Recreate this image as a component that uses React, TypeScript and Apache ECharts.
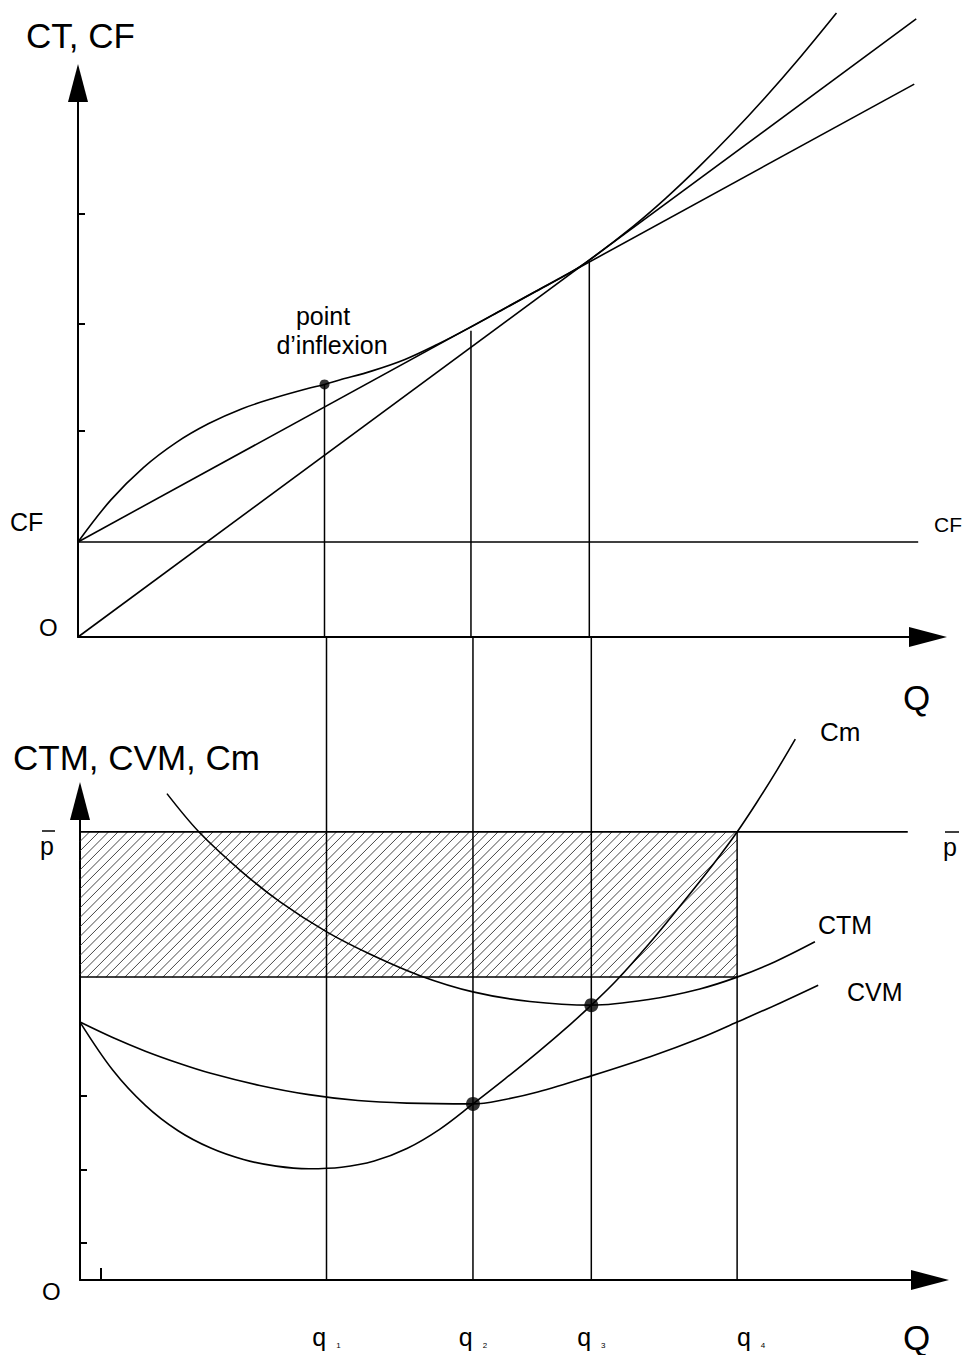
import React, { useEffect, useRef } from 'react';
import * as echarts from 'echarts';

// ---------- shared quantities ----------
const Q_MARKS = [3.77, 6.01, 7.82, 10.05]; // q1..q4
const Q_SUBS = ['1', '2', '3', '4'];

// ---------- top panel (CT, CF) ----------
const CF = 17.5;
const CT_Q = [0, 0.5, 1.0, 1.5, 2.0, 2.5, 3.0, 3.5, 3.77, 4.0, 4.5, 5.0, 5.5, 6.0, 6.5, 7.0, 7.5, 7.8, 8.5, 9.0, 9.5, 10.0, 10.5, 11.0, 11.6];
const CT_V = [17.5, 25.2, 31.2, 35.8, 39.3, 42.0, 44.0, 45.7, 46.5, 47.3, 49.0, 51.1, 53.9, 57.0, 60.3, 63.6, 66.9, 69.2, 75.7, 80.9, 86.6, 92.7, 99.2, 106.1, 114.9];
const RAY_ORIGIN = [[0, 0], [12.82, 113.8]];
const RAY_CF = [[0, CF], [12.79, 101.8]];
const CF_LINE_END = 12.85;
const INFLEXION = [3.77, 46.5];
const Q_TOP_VALUES = [46.5, 56.4, 69.2]; // where q1..q3 verticals start under the CT curve
const TOP_Y_TICKS = [37.9, 57.6, 77.9];

// ---------- bottom panel (CTM, CVM, Cm) ----------
const P_BAR = 60.8;
const P_LINE_END = 12.66;
const CTM_AT_Q4 = 41.1;
const CM_Q = [0, 0.5, 1.0, 1.5, 2.0, 2.5, 3.0, 3.5, 4.0, 4.5, 5.0, 5.5, 6.01, 6.5, 7.0, 7.5, 7.82, 8.2, 8.7, 9.2, 9.7, 10.05, 10.35, 10.66, 10.94];
const CM_V = [35.0, 28.5, 23.7, 20.25, 17.9, 16.35, 15.45, 15.1, 15.3, 16.15, 17.85, 20.45, 23.9, 27.3, 30.9, 34.7, 37.3, 40.6, 45.6, 51.0, 56.6, 60.8, 64.8, 69.2, 73.4];
const CVM_Q = [0, 0.5, 1.0, 1.5, 2.0, 2.75, 3.5, 4.25, 5.0, 6.01, 6.5, 7.0, 7.82, 8.72, 9.48, 10.05, 10.71, 11.29];
const CVM_V = [35.0, 32.9, 31.05, 29.45, 28.05, 26.4, 25.15, 24.35, 24.0, 23.9, 24.5, 25.5, 27.7, 30.3, 32.8, 35.0, 37.6, 40.0];
const CTM_Q = [1.33, 1.82, 2.45, 3.06, 3.78, 4.44, 5.2, 6.01, 6.88, 7.82, 8.72, 9.48, 10.05, 10.63, 11.24];
const CTM_V = [66.0, 60.8, 55.6, 51.3, 47.2, 44.2, 41.3, 39.1, 37.8, 37.3, 38.1, 39.5, 41.1, 43.2, 45.9];
const MIN_POINTS = [[6.01, 23.9], [7.82, 37.3]];
const BOT_Y_TICKS = [5, 15, 25];
const BOT_X_TICKS = [0.32];

// ---------- layout ----------
const INK = '#000';
const FONT = '"Liberation Sans", Arial, sans-serif';
const X_MAX = 13;
const TOP_Y_MAX = 102;
const BOT_Y_MAX = 65;
const TOP_GRID = { left: 78, top: 83, width: 850, height: 554 };
const BOT_GRID = { left: 80, top: 801, width: 850, height: 479 };
const LINK_TOP =
  (BOT_GRID.top + BOT_GRID.height - (TOP_GRID.top + TOP_GRID.height)) /
  (BOT_GRID.height / BOT_Y_MAX);

const zip = (a: number[], b: number[]) => a.map((v, i) => [v, b[i]]);

const line = (grid: number, data: any[], extra: any = {}) => ({
  type: 'line',
  xAxisIndex: grid,
  yAxisIndex: grid,
  data,
  symbol: 'none',
  clip: false,
  silent: true,
  z: 3,
  lineStyle: { color: INK, width: 1.6 },
  ...extra,
});

const axisLine = {
  show: true,
  symbol: ['none', 'triangle'],
  symbolSize: [20, 38],
  lineStyle: { color: INK, width: 2 },
};

const text = (t: string, x: number, y: number, size: number, align = 'left', lineHeight?: number) => ({
  type: 'text',
  x,
  y,
  z: 10,
  silent: true,
  style: {
    text: t,
    fill: INK,
    fontSize: size,
    fontFamily: FONT,
    align,
    verticalAlign: 'middle',
    lineHeight: lineHeight ?? Math.round(size * 1.1),
  },
});

const bar = (x1: number, x2: number, y: number) => ({
  type: 'line',
  z: 10,
  silent: true,
  shape: { x1, y1: y, x2, y2: y },
  style: { stroke: INK, lineWidth: 1.5 },
});

function buildOption(): any {
  const series: any[] = [];
  const smooth = 0.35;

  // top panel
  series.push(line(0, [[0, CF], [CF_LINE_END, CF]]));
  series.push(line(0, RAY_ORIGIN));
  series.push(line(0, RAY_CF));
  series.push(line(0, zip(CT_Q, CT_V), { smooth }));
  Q_TOP_VALUES.forEach((v, i) => {
    series.push(line(0, [[Q_MARKS[i], v], [Q_MARKS[i], 0]], { lineStyle: { color: INK, width: 1.5 } }));
  });
  series.push({
    type: 'scatter',
    xAxisIndex: 0,
    yAxisIndex: 0,
    data: [INFLEXION],
    symbolSize: 10,
    itemStyle: { color: INK },
    silent: true,
    z: 5,
  });

  // bottom panel: hatched profit rectangle
  series.push({
    type: 'custom',
    xAxisIndex: 1,
    yAxisIndex: 1,
    silent: true,
    z: 1,
    data: [[0, P_BAR, Q_MARKS[3], CTM_AT_Q4]],
    encode: { x: [0, 2], y: [1, 3] },
    renderItem: (params: any, api: any) => {
      const tl = api.coord([api.value(0), api.value(1)]);
      const br = api.coord([api.value(2), api.value(3)]);
      const L = tl[0], T = tl[1], R = br[0], B = br[1];
      const step = 9.5;
      const children: any[] = [];
      for (let c = L + T + step; c < R + B; c += step) {
        const x0 = Math.max(L, c - B);
        const x1 = Math.min(R, c - T);
        if (x1 > x0) {
          children.push({
            type: 'line',
            shape: { x1: x0, y1: c - x0, x2: x1, y2: c - x1 },
            style: { stroke: '#333', lineWidth: 0.9 },
          });
        }
      }
      return { type: 'group', children };
    },
  });
  series.push(line(1, [[0, P_BAR], [P_LINE_END, P_BAR]], { lineStyle: { color: INK, width: 1.8 } }));
  series.push(line(1, [[0, CTM_AT_Q4], [Q_MARKS[3], CTM_AT_Q4]], { lineStyle: { color: INK, width: 1.5 } }));
  series.push(line(1, zip(CTM_Q, CTM_V), { smooth }));
  series.push(line(1, zip(CVM_Q, CVM_V), { smooth }));
  series.push(line(1, zip(CM_Q, CM_V), { smooth }));
  Q_MARKS.forEach((q, i) => {
    const top = i < 3 ? LINK_TOP : P_BAR;
    series.push(line(1, [[q, 0], [q, top]], { lineStyle: { color: INK, width: 1.5 } }));
  });
  series.push({
    type: 'scatter',
    xAxisIndex: 1,
    yAxisIndex: 1,
    data: MIN_POINTS,
    symbolSize: 14,
    itemStyle: { color: INK },
    silent: true,
    z: 5,
  });

  return {
    animation: false,
    backgroundColor: '#fff',
    textStyle: { fontFamily: FONT },
    grid: [
      { ...TOP_GRID, containLabel: false },
      { ...BOT_GRID, containLabel: false },
    ],
    xAxis: [
      {
        gridIndex: 0,
        type: 'value',
        min: 0,
        max: X_MAX,
        axisLine,
        axisTick: { show: false },
        axisLabel: { show: false },
        splitLine: { show: false },
      },
      {
        gridIndex: 1,
        type: 'value',
        min: 0,
        max: X_MAX,
        axisLine,
        axisTick: {
          show: true,
          inside: true,
          length: 12,
          customValues: BOT_X_TICKS,
          lineStyle: { color: INK, width: 2 },
        },
        axisLabel: {
          show: true,
          customValues: Q_MARKS,
          margin: 44,
          color: INK,
          formatter: (v: number) => {
            const i = Q_MARKS.findIndex((q) => Math.abs(q - v) < 1e-6);
            const sub = Q_SUBS[i] ?? '';
            return i === 3 ? `{q4|q}{s|${sub}}` : `{q|q}{s|${sub}}`;
          },
          rich: {
            q: { fontSize: 25, lineHeight: 25, fontFamily: FONT, color: INK },
            q4: { fontSize: 25, lineHeight: 25, fontFamily: FONT, color: INK, padding: [0, 0, 0, 28] },
            s: { fontSize: 8, fontFamily: FONT, color: INK, verticalAlign: 'bottom', padding: [0, 0, 0, 10] },
          },
        },
        splitLine: { show: false },
      },
    ],
    yAxis: [
      {
        gridIndex: 0,
        type: 'value',
        min: 0,
        max: TOP_Y_MAX,
        axisLine,
        axisTick: {
          show: true,
          inside: true,
          length: 7,
          customValues: TOP_Y_TICKS,
          lineStyle: { color: INK, width: 2 },
        },
        axisLabel: { show: false },
        splitLine: { show: false },
      },
      {
        gridIndex: 1,
        type: 'value',
        min: 0,
        max: BOT_Y_MAX,
        axisLine,
        axisTick: {
          show: true,
          inside: true,
          length: 7,
          customValues: BOT_Y_TICKS,
          lineStyle: { color: INK, width: 2 },
        },
        axisLabel: { show: false },
        splitLine: { show: false },
      },
    ],
    graphic: [
      text('CT, CF', 26, 35, 35),
      text('Q', 903, 697, 35),
      text('CF', 10, 522, 25),
      text('CF', 934, 524, 21),
      text('O', 39, 627, 24),
      text('point', 323, 316, 25, 'center', 24),
      text('d\u2019inflexion', 332, 345, 25, 'center', 24),
      text('CTM, CVM, Cm', 13, 757, 35),
      text('p', 40, 846, 25),
      bar(42, 55, 831),
      text('p', 943, 847, 25),
      bar(945, 959, 832),
      text('Cm', 820, 732, 26),
      text('CTM', 818, 925, 25),
      text('CVM', 847, 992, 25),
      text('O', 42, 1291, 24),
      text('Q', 903, 1337, 35, 'left', 30),
    ],
    series,
  };
}

export default function App() {
  const ref = useRef<HTMLDivElement>(null);
  useEffect(() => {
    document.body.style.margin = '0';
    const chart = echarts.init(ref.current as HTMLDivElement, null, { renderer: 'svg' });
    chart.setOption(buildOption());
    return () => chart.dispose();
  }, []);
  return <div ref={ref} style={{ width: 969, height: 1355 }} />;
}
